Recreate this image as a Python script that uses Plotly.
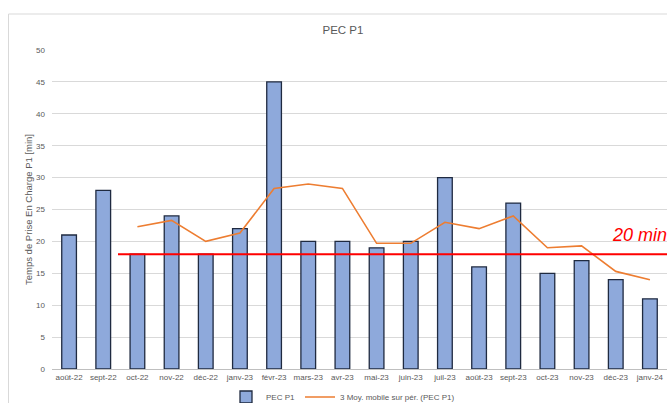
import plotly.graph_objects as go

months = ["août-22", "sept-22", "oct-22", "nov-22", "déc-22", "janv-23", "févr-23", "mars-23",
          "avr-23", "mai-23", "juin-23", "juil-23", "août-23", "sept-23", "oct-23", "nov-23",
          "déc-23", "janv-24"]
pec_p1 = [21, 28, 18, 24, 18, 22, 45, 20, 20, 19, 20, 30, 16, 26, 15, 17, 14, 11]
moy_mobile = [None, None, 22.3, 23.3, 20.0, 21.3, 28.3, 29.0, 28.3, 19.7, 19.7, 23.0, 22.0,
              24.0, 19.0, 19.3, 15.3, 14.0]
target_value = 18
target_label = "20 min"
y_ticks = [0, 5, 10, 15, 20, 25, 30, 35, 40, 45, 50]

# page body margin removed via post_script, so figure fills the window
W, H = 667, 403
L, R, T, B = 52, 0, 50, 403 - 369
pw, ph = W - L - R, H - T - B

def px(sx):
    return (sx - L) / pw

def py(sy):
    return (H - B - sy) / ph

font = "Liberation Sans"
gray = "#595959"

fig = go.Figure()
fig.add_trace(go.Bar(
    x=months, y=pec_p1, name="PEC P1",
    marker=dict(color="#8EA9DB", line=dict(color="#1F2A40", width=1.3)),
))
fig.add_trace(go.Scatter(
    x=months, y=moy_mobile, name="3 Moy. mobile sur pér. (PEC P1)",
    mode="lines", line=dict(color="#ED7D31", width=1.6),
))

fig.update_layout(
    width=W, height=H,
    margin=dict(l=L, r=R, t=T, b=B, autoexpand=False),
    paper_bgcolor="white", plot_bgcolor="white",
    bargap=0.57,
    font=dict(family=font, size=9, color=gray),
    title=dict(text="PEC P1", x=px(343), xref="paper", xanchor="center",
               y=1 - 30 / H, yanchor="middle",
               font=dict(family=font, size=11.5, color=gray)),
    showlegend=True,
    legend=dict(orientation="h", x=px(343), xanchor="center", y=py(397), yanchor="middle",
                font=dict(family=font, size=8, color=gray), bgcolor="rgba(0,0,0,0)",
                itemwidth=30, tracegroupgap=0),
    xaxis=dict(showgrid=False, showline=True, linecolor="#BFBFBF", linewidth=1,
               ticks="", tickfont=dict(size=8, color=gray), tickangle=0, fixedrange=True),
    yaxis=dict(range=[0, 50], tickvals=y_ticks, showgrid=True, gridcolor="#D9D9D9",
               gridwidth=1, zeroline=False, showline=False, ticks="",
               ticklabelstandoff=6,
               tickfont=dict(size=8, color=gray),
               title=dict(text="Temps de Prise En Charge P1 [min]",
                          font=dict(family=font, size=9.5, color=gray), standoff=1)),
    shapes=[
        dict(type="line", xref="paper", yref="paper", x0=px(8.5), x1=px(672), y0=py(14), y1=py(14),
             line=dict(color="#D9D9D9", width=1)),
        dict(type="line", xref="paper", yref="paper", x0=px(8.5), x1=px(8.5), y0=py(14), y1=py(410),
             line=dict(color="#D9D9D9", width=1)),
        dict(type="line", xref="paper", yref="y", x0=px(118), x1=1.02,
             y0=target_value, y1=target_value, line=dict(color="#FF0000", width=2)),
    ],
    annotations=[
        dict(text=target_label, xref="paper", yref="paper", x=px(610), y=py(235),
             xanchor="left", yanchor="middle", showarrow=False,
             font=dict(family=font, size=18, color="#FF0000", style="italic")),
    ],
)

fig.write_html("out.html",
               config={"displayModeBar": False},
               post_script="document.body.style.margin='0';document.body.style.overflow='hidden';")
